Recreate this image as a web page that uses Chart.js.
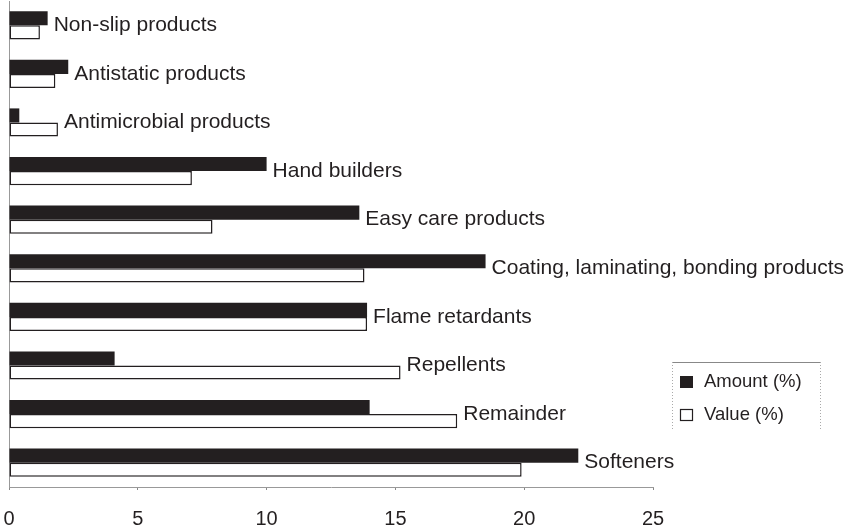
<!DOCTYPE html>
<html>
<head>
<meta charset="utf-8">
<script src="https://cdn.jsdelivr.net/npm/chart.js@4.4.1/dist/chart.umd.min.js"></script>
<style>
    html, body { margin: 0; padding: 0; background: #fff; }
    #wrap { width: 853px; height: 531px; position: relative; }
</style>
</head>
<body>
<div id="wrap"><canvas id="finishChart"></canvas></div>
<script>
// ============================================
// DATA
// ============================================
const categories = [
    'Non-slip products',
    'Antistatic products',
    'Antimicrobial products',
    'Hand builders',
    'Easy care products',
    'Coating, laminating, bonding products',
    'Flame retardants',
    'Repellents',
    'Remainder',
    'Softeners'
];
const amountValues = [1.5, 2.3, 0.4, 10.0, 13.6, 18.5, 13.9, 4.1, 14.0, 22.1];
const valueValues  = [1.2, 1.8, 1.9, 7.1, 7.9, 13.8, 13.9, 15.2, 17.4, 19.9];
const xTicks = [0, 5, 10, 15, 20, 25];

const INK = '#231f20';
const FONT = '"Liberation Sans", Arial, Helvetica, sans-serif';

// Category labels at the end of the longer bar
const barLabels = {
    id: 'barLabels',
    afterDatasetsDraw(chart) {
        const ctx = chart.ctx;
        const m0 = chart.getDatasetMeta(0).data;
        const m1 = chart.getDatasetMeta(1).data;
        ctx.save();
        ctx.font = '21px ' + FONT;
        ctx.fillStyle = INK;
        ctx.textBaseline = 'middle';
        ctx.textAlign = 'left';
        chart.data.labels.forEach((label, i) => {
            const x = Math.max(m0[i].x, m1[i].x) + 6;
            const y = (m0[i].y + m1[i].y) / 2;
            ctx.fillText(label, x, y);
        });
        ctx.restore();
    }
};

// Legend box on the right
const boxLegend = {
    id: 'boxLegend',
    afterDraw(chart) {
        const ctx = chart.ctx;
        const left = 672, right = 820, top = 362, bottom = 430;
        ctx.save();
        ctx.strokeStyle = '#888';
        ctx.lineWidth = 1;
        ctx.beginPath();
        ctx.moveTo(left, top + 0.5);
        ctx.lineTo(right, top + 0.5);
        ctx.stroke();
        ctx.setLineDash([1, 2]);
        ctx.strokeStyle = '#aaa';
        ctx.beginPath();
        ctx.moveTo(left + 0.5, top);
        ctx.lineTo(left + 0.5, bottom);
        ctx.moveTo(right + 0.5, top);
        ctx.lineTo(right + 0.5, bottom);
        ctx.stroke();
        ctx.setLineDash([]);

        ctx.font = '18.5px ' + FONT;
        ctx.textBaseline = 'middle';
        chart.data.datasets.forEach((ds, i) => {
            const y = 382 + i * 33;
            ctx.fillStyle = ds.backgroundColor;
            ctx.fillRect(680, y - 6, 13, 12);
            if (ds.borderWidth) {
                ctx.strokeStyle = INK;
                ctx.lineWidth = 1.2;
                ctx.strokeRect(680.5, y - 5.5, 12, 11);
            }
            ctx.fillStyle = INK;
            ctx.fillText(ds.label, 704, y);
        });
        ctx.restore();
    }
};

const ctx = document.getElementById('finishChart');

new Chart(ctx, {
    type: 'bar',
    data: {
        labels: categories,
        datasets: [
            {
                label: 'Amount (%)',
                data: amountValues,
                backgroundColor: INK,
                borderWidth: 0,
                categoryPercentage: 0.58,
                barPercentage: 1
            },
            {
                label: 'Value (%)',
                data: valueValues,
                backgroundColor: '#ffffff',
                borderColor: INK,
                borderWidth: 1.5,
                borderSkipped: false,
                categoryPercentage: 0.58,
                barPercentage: 1
            }
        ]
    },
    options: {
        indexAxis: 'y',
        responsive: true,
        maintainAspectRatio: false,
        animation: false,
        layout: {
            padding: { left: 9, right: 200, top: 1, bottom: 0 }
        },
        plugins: {
            legend: { display: false },
            tooltip: { enabled: false }
        },
        scales: {
            x: {
                min: 0,
                max: 25,
                afterBuildTicks(scale) {
                    scale.ticks = xTicks.map(v => ({ value: v }));
                },
                afterFit(scale) {
                    // tick padding otherwise pushes the plot to the right
                    scale.height = 44;
                    scale.paddingLeft = 0;
                    scale.paddingRight = 0;
                },
                grid: {
                    drawOnChartArea: false,
                    drawTicks: true,
                    tickLength: 3,
                    color: '#888'
                },
                border: { display: true, color: '#999', width: 1 },
                ticks: {
                    color: INK,
                    padding: 17,
                    maxRotation: 0,
                    font: { family: FONT, size: 20 }
                }
            },
            y: {
                afterFit(scale) { scale.width = 0; },
                grid: { display: false, drawTicks: false },
                border: { display: true, color: '#999', width: 1, dash: [1, 2] },
                ticks: { display: false }
            }
        }
    },
    plugins: [barLabels, boxLegend]
});
</script>
</body>
</html>
